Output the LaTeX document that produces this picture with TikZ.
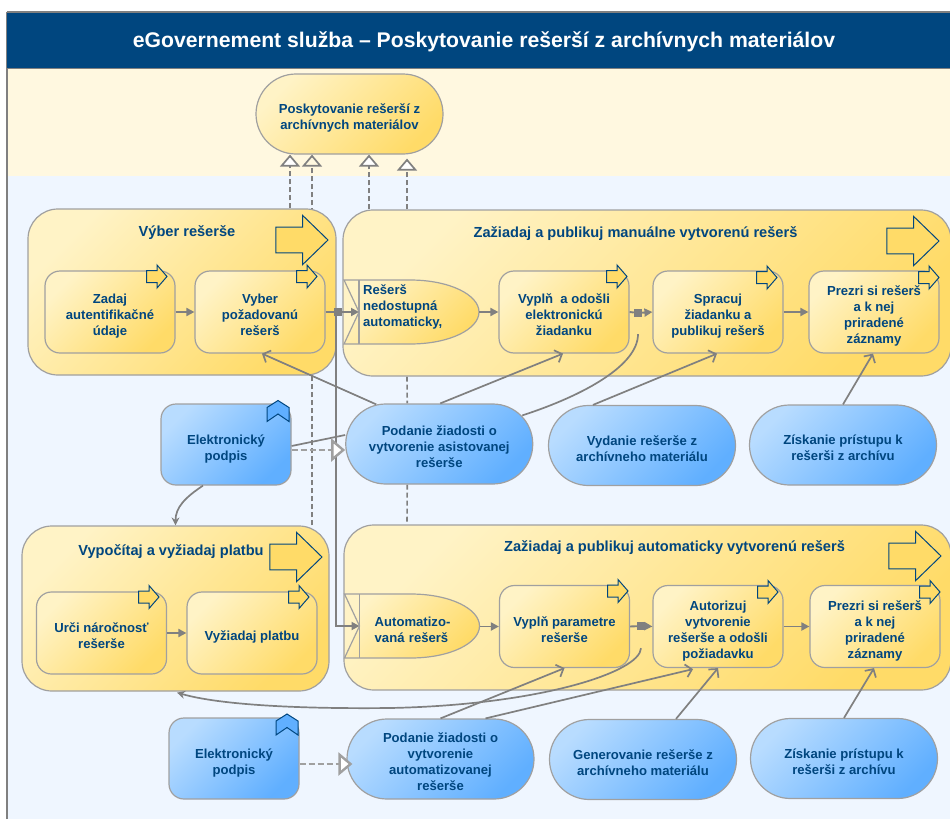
\documentclass[tikz,border=0pt]{standalone}
\usepackage{fontspec}
\setmainfont{Liberation Sans}
\usetikzlibrary{arrows.meta}
\usetikzlibrary{backgrounds}
\usetikzlibrary{shapes.misc}

\definecolor{navy}{HTML}{00467F}
\definecolor{goldA}{HTML}{FFF3C6}
\definecolor{goldB}{HTML}{FFDB68}
\definecolor{blueA}{HTML}{B8DCFF}
\definecolor{blueB}{HTML}{60AFFF}
\definecolor{edge}{HTML}{A0A0A0}
\definecolor{wire}{HTML}{808080}
\definecolor{bandY}{HTML}{FFF8E0}
\definecolor{bandB}{HTML}{EFF6FF}

\tikzset{
    goldfill/.style={top color=goldA,bottom color=goldB,shading angle=45},
    bluefill/.style={top color=blueA,bottom color=blueB,shading angle=45},
    txt/.style={text=navy,font=\fontsize{13.1}{16}\selectfont\bfseries,align=center,inner sep=0pt},
    bigbox/.style={goldfill,draw=edge,line width=1.2pt,rounded corners=30pt,minimum width=#1,minimum height=166pt},
    taskbox/.style={goldfill,draw=edge,line width=1.2pt,rounded corners=15pt,txt,minimum width=130pt,minimum height=82pt},
    goldpill/.style={goldfill,draw=edge,line width=1.2pt,rounded rectangle,txt,minimum width=187pt,minimum height=80pt},
    bluepill/.style={bluefill,draw=edge,line width=1.2pt,rounded rectangle,txt,minimum width=187pt,minimum height=80pt},
    bluebox/.style={bluefill,draw=edge,line width=1.2pt,rounded corners=15pt,txt,minimum width=130pt,minimum height=81pt},
    heading/.style={text=navy,inner sep=0pt,font=\fontsize{14.6}{16}\selectfont\bfseries},
    squarenode/.style={fill=wire,minimum size=8pt,inner sep=0pt},
    flowline/.style={draw=wire,line width=1.9pt,-{Triangle[length=8pt,width=8pt]}},
    assocline/.style={draw=wire,line width=1.7pt,-{Straight Barb[length=6pt,width=13pt]}},
    plainline/.style={draw=wire,line width=1.7pt},
    servline/.style={draw=wire,line width=1.6pt,dash pattern=on 5pt off 3pt,-{Triangle[open,fill=white,length=12pt,width=20pt,line width=1.7pt]}},
    duskline/.style={draw=wire,line width=1.6pt,dash pattern=on 5pt off 3pt},
    accessline/.style={draw=edge,line width=2.4pt,dash pattern=on 6pt off 3pt,-{Triangle[open,fill=white,length=14pt,width=23pt,line width=2.4pt]}}
}

\newcommand{\lift}[1]{\raisebox{-7.6pt}[0pt][0pt]{\begin{tabular}{@{}c@{}}#1\end{tabular}}}
\newcommand{\blockarrow}[4]{%
    \draw[draw=navy,line width=1pt,fill=goldB,shift={(#1,#2)},xscale=#3,yscale=#4]
        (0,0)--(-10,-11.5)--(-10,-6)--(-20.4,-6)--(-20.4,6)--(-10,6)--(-10,11.5)--cycle;}
\newcommand{\chevronmark}[2]{%
    \draw[draw=navy,line width=1pt,fill=blueB,shift={(#1,#2)}]
        (0,0)--(11,7)--(11,21)--(0,13.5)--(-11,21)--(-11,7)--cycle;}
\newcommand{\eventshape}[6]{%
    \draw[goldfill,draw=edge,line width=1.2pt,shift={(#2,#3)}]
        (0,-32)--(66,-32) .. controls (106,-32) and (135,-17) .. (135,0)
        .. controls (135,17) and (106,32) .. (66,32)--(0,32)--(15,0)--cycle;
    \draw[draw=edge,line width=1.2pt,shift={(#2,#3)}] (15,-32)--(15,32);
    \node[txt,anchor=west,minimum width=120pt,inner xsep=#4pt,text width={(60pt-#4pt)*2},align=left,execute at begin node={\rule{0pt}{17pt}}] (#1) at (#2+15,#3+#5) {#6};}

\begin{document}
\begin{tikzpicture}[x=1pt,y=-1pt]
    \useasboundingbox (0,0) rectangle (950,819);
    \begin{scope}[on background layer]
        \fill[white] (0,0) rectangle (950,819);
        \fill[bandB] (7,176) rectangle (950,819);
        \fill[bandY] (7,68) rectangle (950,176);
        \draw[wire,line width=1.2pt] (7,819)--(7,12);
    \end{scope}
    \clip (0,0) rectangle (950,819);

    \fill[navy] (7,12) rectangle (950,68);
    \draw[wire,line width=1.2pt] (7,12)--(950,12);
    \draw[wire,line width=1.6pt] (7,68.5)--(950,68.5);
    \node[text=white,font=\fontsize{21.2}{24}\selectfont\bfseries,inner sep=0pt] (titlenode) at (484,42) {eGovernement služba – Poskytovanie rešerší z archívnych materiálov};

    \node[goldpill] (mainpill) at (349.5,114) {\lift{Poskytovanie rešerší z\\archívnych materiálov}};

    \node[bigbox=308pt] (vyberbig) at (182,292) {};
    \node[heading] (vyberhead) at (187,233) {Výber rešerše};
    \blockarrow{328}{240}{2.55}{2.15}
    \node[taskbox] (zadaj) at (110,312) {\lift{Zadaj\\autentifikačné\\údaje}};
    \node[taskbox] (vyber) at (260,312) {\lift{Vyber\\požadovanú\\rešerš}};
    \blockarrow{167}{276.5}{1}{1}
    \blockarrow{317}{276.5}{1}{1}

    \node[bigbox=608pt] (manualbig) at (647,293) {};
    \node[heading] (manualhead) at (635.5,234) {Zažiadaj a publikuj manuálne vytvorenú rešerš};
    \blockarrow{939}{241}{2.55}{2.15}
    \eventshape{eventA}{344}{312}{4}{-9}{Rešerš\\nedostupná\\automaticky,}
    \node[taskbox] (vyplnA) at (564,312) {\lift{Vyplň\ \ a odošli\\elektronickú\\žiadanku}};
    \node[taskbox] (spracuj) at (718,312) {\lift{Spracuj\\žiadanku a\\publikuj rešerš}};
    \node[taskbox] (prezriA) at (874,312) {\lift{Prezri si rešerš\\a k nej\\priradené\\záznamy}};
    \blockarrow{627}{276.5}{1}{1}
    \blockarrow{777}{277.5}{1}{1}
    \blockarrow{939}{277.5}{1}{1}

    \node[bluebox] (elekA) at (226,444.5) {\lift{Elektronický\\podpis}};
    \chevronmark{278}{400.5}
    \node[bluepill] (podA) at (439.25,444) {\lift{Podanie žiadosti o\\vytvorenie asistovanej\\rešerše}};
    \node[bluepill] (vydanie) at (642,445.5) {\lift{Vydanie rešerše z\\archívneho materiálu}};
    \node[bluepill] (ziskA) at (843,445) {\lift{Získanie prístupu k\\rešerši z archívu}};

    \node[bigbox=307pt,minimum height=165pt] (platbabig) at (175.5,608.5) {};
    \node[heading] (platbahead) at (171,552) {Vypočítaj a vyžiadaj platbu};
    \blockarrow{322}{557}{2.55}{2.15}
    \node[taskbox] (urci) at (101.5,633) {\lift{Urči náročnosť\\rešerše}};
    \node[taskbox] (vyziadaj) at (252,633) {\lift{Vyžiadaj platbu}};
    \blockarrow{159}{597}{1}{1}
    \blockarrow{309}{597}{1}{1}

    \node[bigbox=607pt,minimum height=165pt] (autobig) at (647.5,607.5) {};
    \node[heading] (autohead) at (674.5,548) {Zažiadaj a publikuj automaticky vytvorenú rešerš};
    \blockarrow{941}{556}{2.55}{2.15}
    \eventshape{eventB}{344.5}{626}{15}{0}{Automatizo-\\vaná rešerš}
    \node[taskbox] (vyplnB) at (564.5,626.5) {\lift{Vyplň parametre\\rešerše}};
    \node[taskbox] (autoriz) at (718,626.5) {\lift{Autorizuj\\vytvorenie\\rešerše a odošli\\požiadavku}};
    \node[taskbox] (prezriB) at (875,626.5) {\lift{Prezri si rešerš\\a k nej\\priradené\\záznamy}};
    \blockarrow{628}{591}{1}{1}
    \blockarrow{778}{592}{1}{1}
    \blockarrow{940}{592}{1}{1}

    \node[bluebox] (elekB) at (234,758.5) {\lift{Elektronický\\podpis}};
    \chevronmark{287}{714}
    \node[bluepill] (podB) at (440.5,759) {\lift{Podanie žiadosti o\\vytvorenie\\automatizovanej\\rešerše}};
    \node[bluepill] (gener) at (643,759.5) {\lift{Generovanie rešerše z\\archívneho materiálu}};
    \node[bluepill] (ziskB) at (844,758.5) {\lift{Získanie prístupu k\\rešerši z archívu}};

    \node[squarenode] (squareA) at (338,312) {};
    \node[squarenode] (squareB) at (638,313) {};
    \node[squarenode] (squareC) at (641,626) {};

    \draw[flowline] (zadaj.east)--(vyber.west);
    \draw[flowline] (vyber.east)--(squareA)--(squareA -| eventA.west);
    \draw[flowline] ([xshift=-2]squareA.center) |- (eventB.west |- squareC);
    \draw[flowline] (vyplnA.west -| eventA.east)--(vyplnA.west);
    \draw[flowline] (vyplnA.east)--(squareB)--(spracuj.west);
    \draw[flowline] (spracuj.east)--(prezriA.west);
    \draw[flowline] (urci.east)--(vyziadaj.west);
    \draw[flowline] (vyplnB.west -| eventB.east)--(vyplnB.west);
    \draw[flowline] (vyplnB.east)--(squareC)--(autoriz.west);
    \draw[flowline] (autoriz.east)--(prezriB.west);

    \draw[assocline] ([xshift=-63,yshift=-1]podA.north)--([xshift=2]vyber.south);
    \draw[assocline] ([xshift=1]podA.north)--([xshift=-1]vyplnA.south);
    \draw[assocline] ([xshift=-49]vydanie.north)--([xshift=-1]spracuj.south);
    \draw[assocline] (ziskA.north)--([xshift=-1]prezriA.south);
    \draw[assocline] (podB.north)--(vyplnB.south);
    \draw[assocline] ([xshift=45]podB.north)--([xshift=-25,yshift=-1]autoriz.south);
    \draw[assocline] ([xshift=33]gener.north)--(autoriz.south);
    \draw[assocline] (ziskB.north)--([xshift=-1]prezriB.south);

    \draw[plainline] ([xshift=83,yshift=-12]podA.north) .. controls (585,395) and (638,365) .. ([yshift=-17]squareB.south);
    \draw[plainline] ([yshift=-1.5]elekA.east)--([yshift=9]podA.west);
    \draw[plainline,-{Stealth[length=8pt,width=8pt]}] ([xshift=-23]elekA.south) .. controls +(-18,12) and +(0,-18) .. (platbabig.north);
    \draw[plainline,-{Stealth[length=8pt,width=8pt]}] ([yshift=-18]squareC.south) .. controls (640,672) and (540,705) .. (390,708) .. controls (300,709) and (220,705) .. ([xshift=1.5,yshift=-1]platbabig.south);

    \draw[accessline] ([yshift=-5.5]elekA.east)--([yshift=-6]podA.west);
    \draw[accessline] ([yshift=-5.5]elekB.east)--([xshift=6,yshift=-5]podB.west);

    \begin{scope}[on background layer]
        \draw[servline] ([xshift=108]vyberbig.north)--([xshift=-59.5]mainpill.south);
        \draw[servline,-{Triangle[open,fill=bandY,length=12pt,width=20pt,line width=1.7pt]}] ([xshift=136.5]platbabig.north)--([xshift=-37.5]mainpill.south);
        \draw[servline] ([xshift=-278]manualbig.north)--([xshift=19.5]mainpill.south);
        \draw[servline] ([xshift=-240]manualbig.north)--([xshift=57.5,yshift=-4]mainpill.south);
        \draw[duskline] ([xshift=-240]manualbig.south)--([xshift=-32]podA.north);
        \draw[duskline] ([xshift=-32]podA.south)--([xshift=-240.5]autobig.north);
    \end{scope}
\end{tikzpicture}
\end{document}
